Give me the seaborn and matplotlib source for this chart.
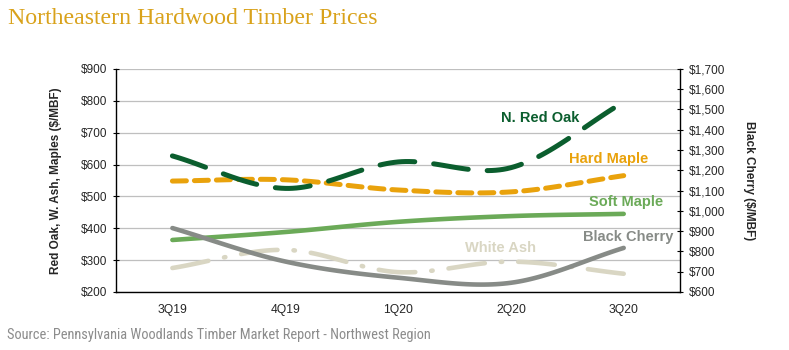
import numpy as np
import pandas as pd
import matplotlib.pyplot as plt
import seaborn as sns
from matplotlib import font_manager

quarters = ['3Q19', '4Q19', '1Q20', '2Q20', '3Q20']
red_oak = [627, 525, 608, 590, 796]
hard_maple = [548, 552, 520, 514, 565]
soft_maple = [363, 388, 420, 438, 445]
white_ash = [275, 332, 262, 295, 257]
black_cherry = [915, 750, 670, 645, 817]


def smooth(vals, n=30):
    # catmull-rom curve through the points, like excel's smoothed line
    p = np.asarray(vals, dtype=float)
    p = np.concatenate([[2 * p[0] - p[1]], p, [2 * p[-1] - p[-2]]])
    xs, ys = [], []
    for i in range(1, len(p) - 2):
        t = np.linspace(0, 1, n, endpoint=(i == len(p) - 3))
        p0, p1, p2, p3 = p[i - 1], p[i], p[i + 1], p[i + 2]
        y = 0.5 * (2 * p1 + (-p0 + p2) * t + (2 * p0 - 5 * p1 + 4 * p2 - p3) * t ** 2
                   + (-p0 + 3 * p1 - 3 * p2 + p3) * t ** 3)
        xs.append(i - 1 + t)
        ys.append(y)
    return pd.DataFrame({'x': np.concatenate(xs), 'y': np.concatenate(ys)})


sns.set_theme(style='white')
plt.rcParams['font.family'] = ['Liberation Sans', 'DejaVu Sans']

# narrow face for the source line, if one is around
names = {f.name for f in font_manager.fontManager.ttflist}
narrow = [n for n in ['Liberation Sans Narrow', 'Roboto Condensed', 'Open Sans Condensed',
                      'DejaVu Sans Condensed'] if n in names]
narrow_fam = narrow + ['DejaVu Sans']

fig = plt.figure(figsize=(7.89, 3.5), dpi=100)
ax = fig.add_axes([0.147, 0.166, 0.715, 0.637])
ax2 = ax.twinx()

c_oak = '#0B5E2E'
c_hard = '#E9A20C'
c_soft = '#6BAA58'
c_ash = '#D9D6C3'
c_cherry = '#878B87'

sns.lineplot(data=smooth(soft_maple), x='x', y='y', ax=ax, color=c_soft, lw=3.3)
sns.lineplot(data=smooth(white_ash), x='x', y='y', ax=ax, color=c_ash, lw=3.3)
ax.lines[-1].set_dashes([8, 3.5, 0.3, 3.5])
ax.lines[-1].set_dash_capstyle('round')
sns.lineplot(data=smooth(hard_maple), x='x', y='y', ax=ax, color=c_hard, lw=3.6)
ax.lines[-1].set_dashes([2.8, 1.6])
ax.lines[-1].set_dash_capstyle('round')
sns.lineplot(data=smooth(red_oak), x='x', y='y', ax=ax, color=c_oak, lw=3.6)
ax.lines[-1].set_dashes([7, 3.8])
ax.lines[-1].set_dash_capstyle('round')
sns.lineplot(data=smooth(black_cherry), x='x', y='y', ax=ax2, color=c_cherry, lw=3.3)

ax.set_xlim(-0.5, 4.5)
ax.set_ylim(200, 900)
ax2.set_ylim(600, 1700)
ax.set_yticks(range(200, 1000, 100))
ax.set_yticklabels([f'${v}' for v in range(200, 1000, 100)])
ax2.set_yticks(range(600, 1800, 100))
ax2.set_yticklabels([f'${v:,}' for v in range(600, 1800, 100)])

ax.set_xticks(range(len(quarters)))
ax.set_xticklabels(quarters, fontsize=8.7)
ax.set_xticks(np.arange(-0.5, 5, 1), minor=True)
ax.tick_params(axis='x', which='major', length=0, pad=9)
ax.tick_params(axis='x', which='minor', length=5, direction='out', color='black', width=0.8)

ax.grid(axis='y', color='#BFBFBF', lw=0.9)
ax.set_axisbelow(True)
for a in (ax, ax2):
    for s in a.spines.values():
        s.set_visible(False)
ax.spines['left'].set_visible(True)
ax.spines['bottom'].set_visible(True)
ax2.spines['right'].set_visible(True)
for s in (ax.spines['left'], ax.spines['bottom'], ax2.spines['right']):
    s.set_color('black')
    s.set_linewidth(1.0)

ax.tick_params(axis='y', length=4, direction='inout', color='black', width=0.8,
               labelsize=8.5, pad=4)
ax2.tick_params(axis='y', length=4, direction='inout', color='black', width=0.8,
                labelsize=8.5, pad=4)

ax.set_xlabel('')
ax.set_ylabel('Red Oak, W. Ash, Maples ($/MBF)', fontsize=8.5, fontweight='bold', labelpad=14)
ax2.set_xlabel('')
ax2.set_ylabel('Black Cherry ($/MBF)', fontsize=8.5, fontweight='bold', rotation=-90, labelpad=22)

lab = dict(fontsize=10.5, fontweight='bold', ha='center', va='center')
ax.text(3.26, 746, 'N. Red Oak', color=c_oak, **lab)
ax.text(3.87, 617, 'Hard Maple', color=c_hard, **lab)
ax.text(4.02, 483, 'Soft Maple', color=c_soft, **lab)
ax.text(2.91, 338, 'White Ash', color=c_ash, **lab)
ax.text(4.04, 373, 'Black Cherry', color=c_cherry, **lab)

fig.text(0.01, 0.948, 'Northeastern Hardwood Timber Prices', color='#D9A21B',
         fontsize=17.2, family=['Liberation Serif', 'DejaVu Serif'], va='center')
fig.text(0.009, 0.043, 'Source: Pennsylvania Woodlands Timber Market Report - Northwest Region',
         color='#8C8C8C', fontsize=10.4, family=narrow_fam, stretch='condensed',
         va='center')

plt.savefig('out.png', dpi=100, facecolor='white')
